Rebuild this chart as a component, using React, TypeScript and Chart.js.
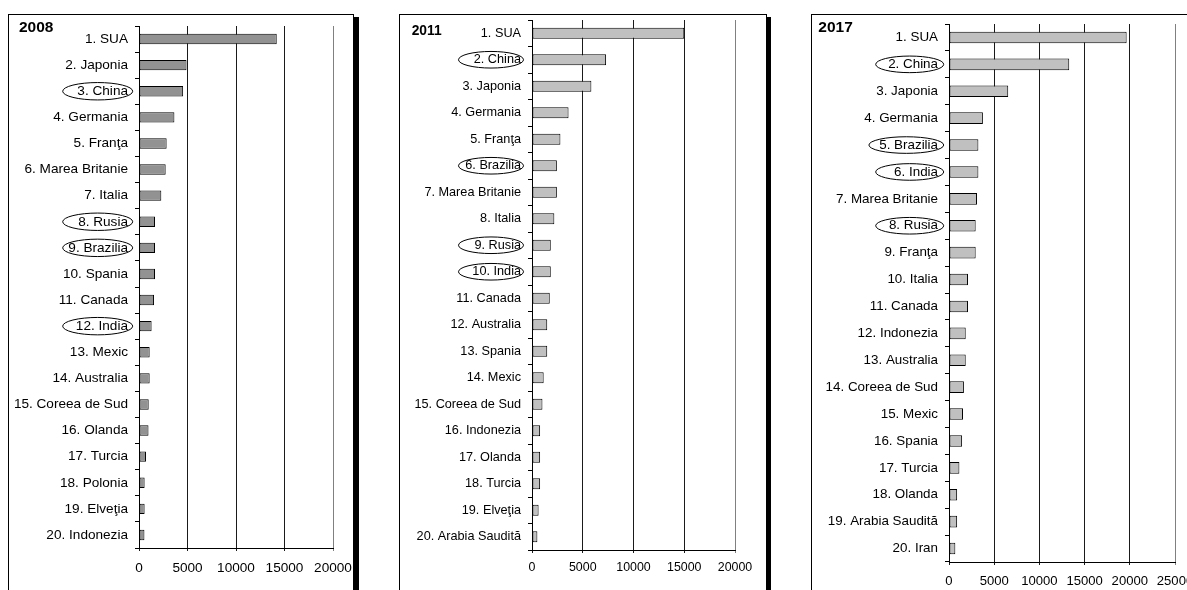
import React, { useEffect, useRef } from "react";
import { Chart, registerables } from "chart.js";

Chart.register(...registerables);

// ---------- DATA ----------
const categories2008 = [
  "1. SUA", "2. Japonia", "3. China", "4. Germania", "5. Franţa",
  "6. Marea Britanie", "7. Italia", "8. Rusia", "9. Brazilia", "10. Spania",
  "11. Canada", "12. India", "13. Mexic", "14. Australia", "15. Coreea de Sud",
  "16. Olanda", "17. Turcia", "18. Polonia", "19. Elveţia", "20. Indonezia",
];
const values2008 = [
  14200, 4900, 4550, 3650, 2850, 2750, 2300, 1650, 1650, 1650,
  1550, 1300, 1100, 1100, 1000, 980, 720, 580, 580, 560,
];
const highlighted2008 = ["3. China", "8. Rusia", "9. Brazilia", "12. India"];
const ticks2008 = [0, 5000, 10000, 15000, 20000];

const categories2011 = [
  "1. SUA", "2. China", "3. Japonia", "4. Germania", "5. Franţa",
  "6. Brazilia", "7. Marea Britanie", "8. Italia", "9. Rusia", "10. India",
  "11. Canada", "12. Australia", "13. Spania", "14. Mexic", "15. Coreea de Sud",
  "16. Indonezia", "17. Olanda", "18. Turcia", "19. Elveţia", "20. Arabia Saudită",
];
const values2011 = [
  15000, 7300, 5850, 3600, 2800, 2450, 2450, 2200, 1850, 1850,
  1750, 1500, 1500, 1150, 1030, 800, 800, 800, 650, 530,
];
const highlighted2011 = ["2. China", "6. Brazilia", "9. Rusia", "10. India"];
const ticks2011 = [0, 5000, 10000, 15000, 20000];

const categories2017 = [
  "1. SUA", "2. China", "3. Japonia", "4. Germania", "5. Brazilia",
  "6. India", "7. Marea Britanie", "8. Rusia", "9. Franţa", "10. Italia",
  "11. Canada", "12. Indonezia", "13. Australia", "14. Coreea de Sud", "15. Mexic",
  "16. Spania", "17. Turcia", "18. Olanda", "19. Arabia Saudită", "20. Iran",
];
const values2017 = [
  19650, 13300, 6550, 3750, 3250, 3250, 3100, 2950, 2950, 2100,
  2100, 1850, 1850, 1650, 1550, 1450, 1150, 900, 900, 700,
];
const highlighted2017 = ["2. China", "5. Brazilia", "6. India", "8. Rusia"];
const ticks2017 = [0, 5000, 10000, 15000, 20000, 25000];

// ---------- LAYOUT ----------
const FONT = "'Liberation Sans', Arial, Helvetica, sans-serif";
const CANVAS_H = 576;
const TOP = 14;

type PanelSpec = {
  title: string;
  labels: string[];
  values: number[];
  highlighted: string[];
  ticks: number[];
  left: number;
  width: number;
  boxWidth: number;
  shadow: string;
  chartLeft: number;
  chartRight: number;
  chartTop: number;
  chartBottom: number;
  fontSize: number;
  tickFontSize: number;
  xPad: number;
  fill: string;
  barPct: number;
  titleX: number;
  titleY: number;
  titleSize: number;
  ellBase: number;
  ellK: number;
  ellGap: number;
  ellRy: number;
};

const panels: PanelSpec[] = [
  {
    title: "2008", labels: categories2008, values: values2008, highlighted: highlighted2008, ticks: ticks2008,
    left: 8, width: 345, boxWidth: 346, shadow: "5px 3px 0 #000",
    chartLeft: 131, chartRight: 325, chartTop: 12, chartBottom: 534,
    fontSize: 13.6, tickFontSize: 13.6, xPad: 9, fill: "#929292", barPct: 0.4,
    titleX: 11, titleY: 14, titleSize: 15.5,
    ellBase: 70, ellK: 10, ellGap: 6.3, ellRy: 8.7,
  },
  {
    title: "2011", labels: categories2011, values: values2011, highlighted: highlighted2011, ticks: ticks2011,
    left: 399, width: 367, boxWidth: 368, shadow: "4px 3px 0 #000",
    chartLeft: 133, chartRight: 336, chartTop: 6, chartBottom: 536,
    fontSize: 12.7, tickFontSize: 12.4, xPad: 7.4, fill: "#c0c0c0", barPct: 0.42,
    titleX: 12.7, titleY: 17, titleSize: 13.8,
    ellBase: 65, ellK: 8, ellGap: 8.5, ellRy: 8.3,
  },
  {
    title: "2017", labels: categories2017, values: values2017, highlighted: highlighted2017, ticks: ticks2017,
    left: 811, width: 400, boxWidth: 420, shadow: "5px 3px 0 #000",
    chartLeft: 138, chartRight: 364, chartTop: 10, chartBottom: 548,
    fontSize: 13.4, tickFontSize: 13.1, xPad: 9, fill: "#c0c0c0", barPct: 0.43,
    titleX: 7.3, titleY: 14, titleSize: 15.5,
    ellBase: 68, ellK: 16, ellGap: 5.3, ellRy: 8.3,
  },
];

function zeroPad(s: any) {
  s.paddingLeft = 0;
  s.paddingRight = 0;
  s.paddingTop = 0;
  s.paddingBottom = 0;
}

function Panel({ p }: { p: PanelSpec }) {
  const ref = useRef<HTMLCanvasElement | null>(null);

  useEffect(() => {
    if (!ref.current) return;
    const max = p.ticks[p.ticks.length - 1];

    const decor = {
      id: "decor",
      afterDraw(chart: any) {
        const ctx = chart.ctx as CanvasRenderingContext2D;
        const yScale = chart.scales.y;
        const area = chart.chartArea;
        ctx.save();
        ctx.fillStyle = "#000";
        ctx.font = `bold ${p.titleSize}px ${FONT}`;
        ctx.textAlign = "left";
        ctx.textBaseline = "middle";
        ctx.fillText(p.title, p.titleX, p.titleY);
        ctx.font = `${p.fontSize}px ${FONT}`;
        ctx.strokeStyle = "#000";
        ctx.lineWidth = 1;
        p.highlighted.forEach((name) => {
          const idx = p.labels.indexOf(name);
          if (idx < 0) return;
          const cy = yScale.getPixelForValue(idx);
          const tw = ctx.measureText(name).width;
          const w = Math.max(p.ellBase, tw + p.ellK);
          const right = area.left - p.ellGap;
          const cx = right - w / 2;
          ctx.beginPath();
          ctx.ellipse(cx, cy, w / 2, p.ellRy, 0, 0, Math.PI * 2);
          ctx.stroke();
        });
        ctx.restore();
      },
    };

    const chart = new Chart(ref.current, {
      type: "bar",
      data: {
        labels: p.labels,
        datasets: [
          {
            data: p.values,
            backgroundColor: p.fill,
            borderColor: "#000",
            borderWidth: 1,
            borderSkipped: false,
            barPercentage: p.barPct,
            categoryPercentage: 1,
          },
        ],
      },
      options: {
        indexAxis: "y",
        responsive: false,
        animation: false,
        devicePixelRatio: 1,
        layout: {
          padding: { left: 0, top: p.chartTop, right: p.width - p.chartRight, bottom: 0 },
        },
        plugins: {
          legend: { display: false },
          tooltip: { enabled: false },
          title: { display: false },
        },
        scales: {
          x: {
            type: "linear",
            min: 0,
            max,
            afterBuildTicks: (s: any) => {
              s.ticks = p.ticks.map((v) => ({ value: v }));
            },
            afterFit: (s: any) => {
              s.height = CANVAS_H - p.chartBottom;
              zeroPad(s);
            },
            grid: {
              color: (c: any) => (c.tick && c.tick.value === max ? "#808080" : "#1a1a1a"),
              lineWidth: 1,
              drawTicks: true,
              tickLength: 3,
            },
            border: { color: "#000", width: 1 },
            ticks: {
              color: "#000",
              font: { family: FONT, size: p.tickFontSize },
              padding: p.xPad,
              autoSkip: false,
              maxRotation: 0,
              minRotation: 0,
              callback: (v: any) => String(v),
            },
          },
          y: {
            type: "category",
            afterFit: (s: any) => {
              s.width = p.chartLeft;
              zeroPad(s);
            },
            grid: {
              drawOnChartArea: false,
              drawTicks: true,
              tickLength: 4,
              color: "#000",
              offset: true,
            },
            border: { color: "#000", width: 1 },
            ticks: {
              color: "#000",
              font: { family: FONT, size: p.fontSize },
              padding: 7,
              autoSkip: false,
            },
          },
        },
      } as any,
      plugins: [decor],
    });
    return () => chart.destroy();
  }, [p]);

  return (
    <>
      <div
        style={{
          position: "absolute",
          left: p.left,
          top: TOP,
          width: p.boxWidth,
          height: 640,
          border: "1px solid #000",
          boxSizing: "border-box",
          boxShadow: p.shadow,
          background: "#fff",
        }}
      />
      <canvas
        ref={ref}
        width={p.width}
        height={CANVAS_H}
        style={{ position: "absolute", left: p.left, top: TOP, width: p.width, height: CANVAS_H }}
      />
    </>
  );
}

export default function App() {
  return (
    <div
      style={{
        position: "absolute",
        left: 0,
        top: 0,
        width: 1187,
        height: 590,
        overflow: "hidden",
        background: "#fff",
      }}
    >
      {panels.map((p) => (
        <Panel key={p.title} p={p} />
      ))}
    </div>
  );
}
